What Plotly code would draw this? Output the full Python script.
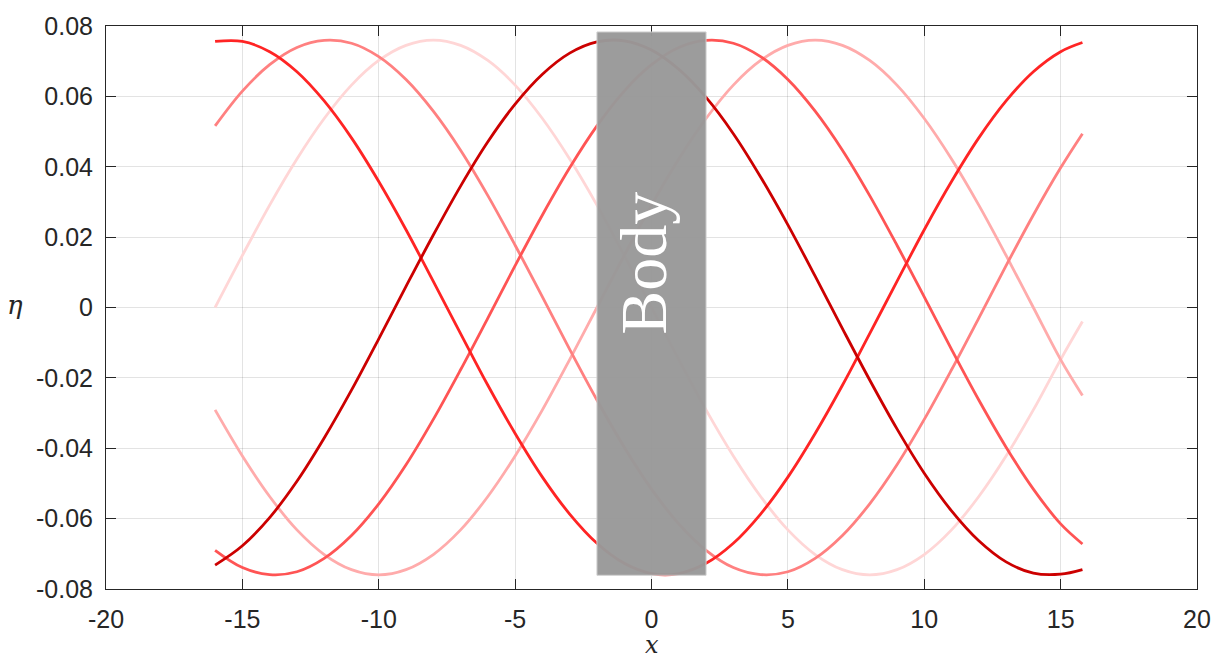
import plotly.graph_objects as go

# Sample positions along the domain (x) shared by every snapshot
x_pos = [-16, -15, -14, -13, -12, -11, -10, -9, -8, -7, -6, -5, -4, -3, -2, -1, 0,
         1, 2, 3, 4, 5, 6, 7, 8, 9, 10, 11, 12, 13, 14, 15, 15.8]

# Free-surface elevation snapshots, earliest (lightest) to latest (darkest)
eta_1 = [0.0, 0.0148, 0.0291, 0.0422, 0.0537, 0.0632, 0.0702, 0.0745, 0.076, 0.0745,
         0.0702, 0.0632, 0.0537, 0.0422, 0.0291, 0.0148, 0.0, -0.0148, -0.0291, -0.0422,
         -0.0537, -0.0632, -0.0702, -0.0745, -0.076, -0.0745, -0.0702, -0.0632, -0.0537,
         -0.0422, -0.0291, -0.0148, -0.004]
eta_2 = [-0.0291, -0.0422, -0.0537, -0.0632, -0.0702, -0.0745, -0.076, -0.0745, -0.0702,
         -0.0632, -0.0537, -0.0422, -0.0291, -0.0148, 0.0, 0.0148, 0.0291, 0.0422, 0.0537,
         0.0632, 0.0702, 0.0745, 0.076, 0.0745, 0.0702, 0.0632, 0.0537, 0.0422, 0.0291,
         0.0148, 0.0, -0.0148, -0.025]
eta_3 = [0.0516, 0.0615, 0.0690, 0.0739, 0.0759, 0.0751, 0.0713, 0.0648, 0.0558, 0.0447,
         0.0318, 0.0177, 0.0030, -0.0119, -0.0263, -0.0397, -0.0516, -0.0615, -0.0690,
         -0.0739, -0.0759, -0.0751, -0.0713, -0.0648, -0.0558, -0.0447, -0.0318, -0.0177,
         -0.0030, 0.0119, 0.0263, 0.0397, 0.0494]
eta_4 = [-0.0690, -0.0739, -0.0759, -0.0751, -0.0713, -0.0648, -0.0558, -0.0447, -0.0318,
         -0.0177, -0.0030, 0.0119, 0.0263, 0.0397, 0.0516, 0.0615, 0.0690, 0.0739, 0.0759,
         0.0751, 0.0713, 0.0648, 0.0558, 0.0447, 0.0318, 0.0177, 0.0030, -0.0119, -0.0263,
         -0.0397, -0.0516, -0.0615, -0.0672]
eta_5 = [0.0756, 0.0756, 0.0727, 0.0670, 0.0587, 0.0482, 0.0358, 0.0221, 0.0074, -0.0074,
         -0.0221, -0.0358, -0.0482, -0.0587, -0.0670, -0.0727, -0.0756, -0.0756, -0.0727,
         -0.0670, -0.0587, -0.0482, -0.0358, -0.0221, -0.0074, 0.0074, 0.0221, 0.0358,
         0.0482, 0.0587, 0.0670, 0.0727, 0.0753]
eta_6 = [-0.0732, -0.0677, -0.0597, -0.0494, -0.0371, -0.0235, -0.0089, 0.0060, 0.0206,
         0.0345, 0.0471, 0.0578, 0.0663, 0.0723, 0.0755, 0.0758, 0.0732, 0.0677, 0.0597,
         0.0494, 0.0371, 0.0235, 0.0089, -0.0060, -0.0206, -0.0345, -0.0471, -0.0578,
         -0.0663, -0.0723, -0.0755, -0.0758, -0.0745]

snapshots = [eta_1, eta_2, eta_3, eta_4, eta_5, eta_6]
line_colors = ["#FFD6D6", "#FFABAB", "#FF8080", "#FF5454", "#FF2424", "#CC0000"]

# Body occupying the middle of the domain
body_x = [-2, 2]
body_y = [-0.0761, 0.0783]

x_ticks = [-20, -15, -10, -5, 0, 5, 10, 15, 20]
x_tick_text = ["-20", "-15", "-10", "-5", "0", "5", "10", "15", "20"]
y_ticks = [-0.08, -0.06, -0.04, -0.02, 0, 0.02, 0.04, 0.06, 0.08]
y_tick_text = ["-0.08", "-0.06", "-0.04", "-0.02", "0", "0.02", "0.04", "0.06", "0.08"]

fig = go.Figure()
for eta, col in zip(snapshots, line_colors):
    fig.add_trace(go.Scatter(
        x=x_pos, y=eta, mode="lines",
        line=dict(color=col, width=2.8, shape="spline", smoothing=1.0),
        showlegend=False, hoverinfo="skip",
    ))

fig.add_shape(
    type="rect", xref="x", yref="y",
    x0=body_x[0], x1=body_x[1], y0=body_y[0], y1=body_y[1],
    fillcolor="#999999", opacity=0.97,
    line=dict(color="#cfcfcf", width=1), layer="above",
)
fig.add_annotation(
    x=-0.3, y=0.0125, xref="x", yref="y", text="Body", showarrow=False,
    textangle=-90, font=dict(family="Liberation Serif", size=66, color="white"),
)

axis_font = dict(family="Liberation Sans, Arial, sans-serif", size=25, color="#262626")
common = dict(
    showline=True, linecolor="#262626", linewidth=1, mirror="ticks",
    ticks="inside", ticklen=10, tickwidth=1, tickcolor="#262626",
    showgrid=True, gridcolor="rgba(0,0,0,0.11)", gridwidth=1,
    zeroline=False, tickfont=axis_font,
)
fig.update_xaxes(range=[-20, 20], tickmode="array", tickvals=x_ticks,
                 ticktext=x_tick_text, ticklabelstandoff=8, **common)
fig.update_yaxes(range=[-0.08, 0.08], tickmode="array", tickvals=y_ticks,
                 ticktext=y_tick_text, ticklabelstandoff=7, **common)

# Axis labels in math style
fig.add_annotation(x=0.5, y=-0.099, xref="paper", yref="paper", text="<i>x</i>",
                   showarrow=False, yanchor="middle",
                   font=dict(family="DejaVu Serif", size=24, color="#262626"))
fig.add_annotation(x=-0.083, y=0.505, xref="paper", yref="paper", text="<i>η</i>",
                   showarrow=False, xanchor="center",
                   font=dict(family="DejaVu Serif", size=26, color="#262626"))

fig.update_layout(
    width=1223, height=661,
    margin=dict(l=106, r=26, t=17, b=72),
    paper_bgcolor="white", plot_bgcolor="white",
)

fig.write_html("out.html")
